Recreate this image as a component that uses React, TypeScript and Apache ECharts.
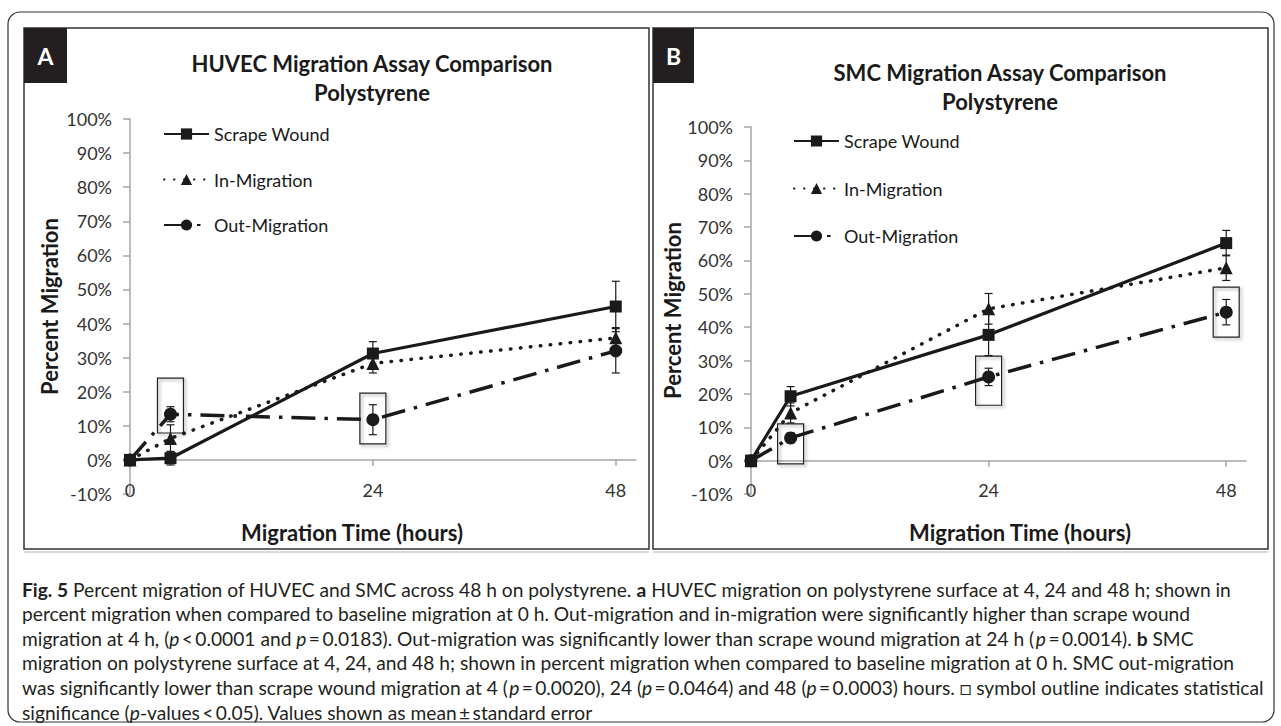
import React, { useEffect, useRef } from 'react';
import * as echarts from 'echarts';

// ---------------- data ----------------
const hours = [0, 4, 24, 48];
const xTicks = [0, 24, 48];
const seriesNames = ['Scrape Wound', 'In-Migration', 'Out-Migration'];

// Panel A: HUVEC (percent migration, standard error)
const huvecScrape = [0, 0.5, 31.2, 45.0];
const huvecScrapeErr = [0, 2.0, 3.5, 7.4];
const huvecIn = [0, 6.3, 28.3, 35.8];
const huvecInErr = [0, 4.0, 2.8, 3.0];
const huvecOut = [0, 13.4, 11.8, 32.0];
const huvecOutErr = [0, 2.2, 4.4, 6.5];
// significance outlines: [hour, low %, high %]
const huvecSig = [
  [4, 7.9, 24.0],
  [24, 4.7, 19.6],
];

// Panel B: SMC
const smcScrape = [0, 19.3, 37.7, 65.2];
const smcScrapeErr = [0, 2.9, 6.2, 3.8];
const smcIn = [0, 14.3, 45.5, 57.8];
const smcInErr = [0, 3.0, 4.6, 3.8];
const smcOut = [0, 6.8, 25.1, 44.5];
const smcOutErr = [0, 1.5, 2.6, 3.8];
const smcSig = [
  [4, -1.0, 11.0],
  [24, 16.6, 31.3],
  [48, 37.0, 52.0],
];

const T = '\u2009'; // thin space
const captionLines = [
  '{b|Fig. 5} Percent migration of HUVEC and SMC across 48 h on polystyrene. {b|a} HUVEC migration on polystyrene surface at 4, 24 and 48 h; shown in',
  'percent migration when compared to baseline migration at 0 h. Out-migration and in-migration were significantly higher than scrape wound',
  `migration at 4 h, ({i|p}${T}<${T}0.0001 and {i|p}${T}=${T}0.0183). Out-migration was significantly lower than scrape wound migration at 24 h ({i|p}${T}=${T}0.0014). {b|b} SMC`,
  'migration on polystyrene surface at 4, 24, and 48 h; shown in percent migration when compared to baseline migration at 0 h. SMC out-migration',
  `was significantly lower than scrape wound migration at 4 ({i|p}${T}=${T}0.0020), 24 ({i|p}${T}=${T}0.0464) and 48 ({i|p}${T}=${T}0.0003) hours. \u25A1 symbol outline indicates statistical`,
  `significance ({i|p}-values${T}<${T}0.05). Values shown as mean${T}\u00B1${T}standard error`,
];

// ---------------- styles ----------------
const FONT = 'Lato';
const INK = '#1a1a1a';
const AXIS = '#a6a6a6';
const CAP_SIZE = 19.2;

const zip = (xs: number[], ys: number[]) => xs.map((x, i) => [x, ys[i]]);
const zip3 = (xs: number[], ys: number[], es: number[]) =>
  xs.map((x, i) => [x, ys[i], es[i]]).filter((d) => d[0] > 0);

const lineStyles: any[] = [
  { symbol: 'rect', symbolSize: 12, lineStyle: { color: INK, width: 3.2, type: 'solid' } },
  { symbol: 'triangle', symbolSize: 13, lineStyle: { color: INK, width: 3.5, type: [0.5, 9.5], cap: 'round' } },
  { symbol: 'circle', symbolSize: 13, lineStyle: { color: INK, width: 3.5, type: [24, 9, 3.5, 9], cap: 'butt' } },
];

function lineSeries(idx: number, ys: number[], axis: number) {
  return {
    name: seriesNames[idx],
    type: 'line',
    xAxisIndex: axis,
    yAxisIndex: axis,
    data: zip(hours, ys),
    symbol: lineStyles[idx].symbol,
    symbolSize: lineStyles[idx].symbolSize,
    itemStyle: { color: INK },
    lineStyle: lineStyles[idx].lineStyle,
    z: 4,
    silent: true,
  };
}

function errSeries(ys: number[], es: number[], axis: number) {
  return {
    type: 'custom',
    xAxisIndex: axis,
    yAxisIndex: axis,
    silent: true,
    z: 3,
    data: zip3(hours, ys, es),
    renderItem: (_p: any, api: any) => {
      const x = api.value(0);
      const y = api.value(1);
      const e = api.value(2);
      const t = api.coord([x, y + e]);
      const b = api.coord([x, y - e]);
      const hw = 4;
      const st = { stroke: INK, lineWidth: 1.2 };
      return {
        type: 'group',
        children: [
          { type: 'line', shape: { x1: t[0], y1: t[1], x2: b[0], y2: b[1] }, style: st },
          { type: 'line', shape: { x1: t[0] - hw, y1: t[1], x2: t[0] + hw, y2: t[1] }, style: st },
          { type: 'line', shape: { x1: b[0] - hw, y1: b[1], x2: b[0] + hw, y2: b[1] }, style: st },
        ],
      };
    },
  };
}

function sigSeries(boxes: number[][], axis: number) {
  return {
    type: 'custom',
    xAxisIndex: axis,
    yAxisIndex: axis,
    silent: true,
    z: 2,
    data: boxes,
    renderItem: (_p: any, api: any) => {
      const x = api.value(0);
      const lo = api.value(1);
      const hi = api.value(2);
      const a = api.coord([x, hi]);
      const b = api.coord([x, lo]);
      return {
        type: 'rect',
        shape: { x: a[0] - 13, y: a[1], width: 26, height: b[1] - a[1] },
        style: {
          fill: 'none',
          stroke: '#222',
          lineWidth: 1.2,
          shadowBlur: 3,
          shadowColor: 'rgba(0,0,0,0.35)',
          shadowOffsetX: 2,
          shadowOffsetY: 2,
        },
      };
    },
  };
}

function yAxis(gridIndex: number, nameGap: number) {
  return {
    type: 'value',
    gridIndex,
    min: -10,
    max: 100,
    interval: 10,
    name: 'Percent Migration',
    nameLocation: 'middle',
    nameGap,
    nameRotate: 90,
    nameTextStyle: { fontFamily: FONT, fontSize: 22, fontWeight: 'bold', color: INK },
    axisLine: { show: true, onZero: false, lineStyle: { color: AXIS, width: 1.5 } },
    axisTick: { show: true, length: 7, lineStyle: { color: AXIS, width: 1.5 } },
    axisLabel: { formatter: '{value}%', fontFamily: FONT, fontSize: 18, color: '#333', margin: 18 },
    splitLine: { show: false },
  };
}

function xAxis(gridIndex: number, namePadding: number[]) {
  return {
    type: 'value',
    gridIndex,
    min: 0,
    max: 50,
    interval: 24,
    name: 'Migration Time (hours)',
    nameLocation: 'middle',
    nameGap: 27,
    nameTextStyle: { fontFamily: FONT, fontSize: 22, fontWeight: 'bold', color: INK, padding: namePadding },
    axisLine: { show: true, onZero: true, lineStyle: { color: AXIS, width: 1.5 } },
    axisTick: { show: true, customValues: xTicks, length: 6, lineStyle: { color: AXIS, width: 1.5 } },
    axisLabel: { customValues: xTicks, fontFamily: FONT, fontSize: 18, color: '#333', margin: -13 },
    splitLine: { show: false },
  };
}

function legend(left: number, top: number, gap: number) {
  return {
    data: seriesNames,
    orient: 'vertical',
    left,
    top,
    itemWidth: 45,
    itemHeight: 14,
    itemGap: gap,
    selectedMode: false,
    padding: 0,
    textStyle: { fontFamily: FONT, fontSize: 18, color: INK, lineHeight: 14 },
  };
}

function title(text: string, left: number, top: number) {
  return {
    text,
    left,
    top,
    textAlign: 'center',
    padding: 0,
    textStyle: { fontFamily: FONT, fontSize: 22, fontWeight: 'bold', color: INK, lineHeight: 29 },
  };
}

const capRich = {
  b: { fontFamily: FONT, fontSize: CAP_SIZE, fontWeight: 'bold', fill: '#231f20' },
  i: { fontFamily: FONT, fontSize: CAP_SIZE, fontStyle: 'italic', fill: '#231f20' },
};

export default function App() {
  const ref = useRef<HTMLDivElement>(null);
  useEffect(() => {
    if (!ref.current) return;
    const chart = echarts.init(ref.current, null, { renderer: 'svg' });
    const captionGraphics = captionLines.map((t, i) => ({
      type: 'text',
      x: 22,
      y: 589 + i * 24.6,
      silent: true,
      style: {
        text: t,
        rich: capRich,
        fontFamily: FONT,
        fontSize: CAP_SIZE,
        fill: '#231f20',
        verticalAlign: 'middle',
        textVerticalAlign: 'middle',
      },
    }));
    chart.setOption({
      animation: false,
      backgroundColor: '#ffffff',
      title: [
        title('HUVEC Migration Assay Comparison\nPolystyrene', 372, 49),
        title('SMC Migration Assay Comparison\nPolystyrene', 1000, 58),
      ],
      legend: [legend(163, 125, 27.5), legend(793, 132, 29.5)],
      grid: [
        { left: 130, top: 119, width: 506, height: 375 },
        { left: 751, top: 127, width: 495, height: 367 },
      ],
      xAxis: [xAxis(0, [0, 62, 0, 0]), xAxis(1, [0, 0, 0, 43])],
      yAxis: [yAxis(0, 70), yAxis(1, 67)],
      series: [
        sigSeries(huvecSig, 0),
        errSeries(huvecScrape, huvecScrapeErr, 0),
        errSeries(huvecIn, huvecInErr, 0),
        errSeries(huvecOut, huvecOutErr, 0),
        lineSeries(0, huvecScrape, 0),
        lineSeries(1, huvecIn, 0),
        lineSeries(2, huvecOut, 0),
        sigSeries(smcSig, 1),
        errSeries(smcScrape, smcScrapeErr, 1),
        errSeries(smcIn, smcInErr, 1),
        errSeries(smcOut, smcOutErr, 1),
        lineSeries(0, smcScrape, 1),
        lineSeries(1, smcIn, 1),
        lineSeries(2, smcOut, 1),
      ],
      graphic: [
        { type: 'rect', silent: true, shape: { x: 8, y: 12, width: 1266, height: 710, r: 12 }, style: { fill: 'none', stroke: '#333', lineWidth: 1.2 } },
        { type: 'rect', silent: true, shape: { x: 24, y: 28, width: 625, height: 521 }, style: { fill: 'none', stroke: '#333', lineWidth: 1.5 } },
        { type: 'rect', silent: true, shape: { x: 653, y: 28, width: 615, height: 521 }, style: { fill: 'none', stroke: '#333', lineWidth: 1.5 } },
        { type: 'line', silent: true, shape: { x1: 24, y1: 552, x2: 649, y2: 552 }, style: { stroke: '#cccccc', lineWidth: 1.5 } },
        { type: 'line', silent: true, shape: { x1: 653, y1: 552, x2: 1268, y2: 552 }, style: { stroke: '#cccccc', lineWidth: 1.5 } },
        { type: 'rect', silent: true, shape: { x: 24, y: 28, width: 43, height: 55 }, style: { fill: '#231f20' } },
        { type: 'rect', silent: true, shape: { x: 653, y: 28, width: 41, height: 55 }, style: { fill: '#231f20' } },
        { type: 'text', silent: true, x: 45.5, y: 56, style: { text: 'A', fill: '#fff', fontFamily: FONT, fontSize: 23, fontWeight: 'bold', align: 'center', textAlign: 'center', verticalAlign: 'middle', textVerticalAlign: 'middle' } },
        { type: 'text', silent: true, x: 673.5, y: 56, style: { text: 'B', fill: '#fff', fontFamily: FONT, fontSize: 23, fontWeight: 'bold', align: 'center', textAlign: 'center', verticalAlign: 'middle', textVerticalAlign: 'middle' } },
        ...captionGraphics,
      ],
    });
    return () => chart.dispose();
  }, []);
  return (
    <div
      ref={ref}
      style={{ position: 'fixed', left: 0, top: 0, width: 1281, height: 726, background: '#fff' }}
    />
  );
}
